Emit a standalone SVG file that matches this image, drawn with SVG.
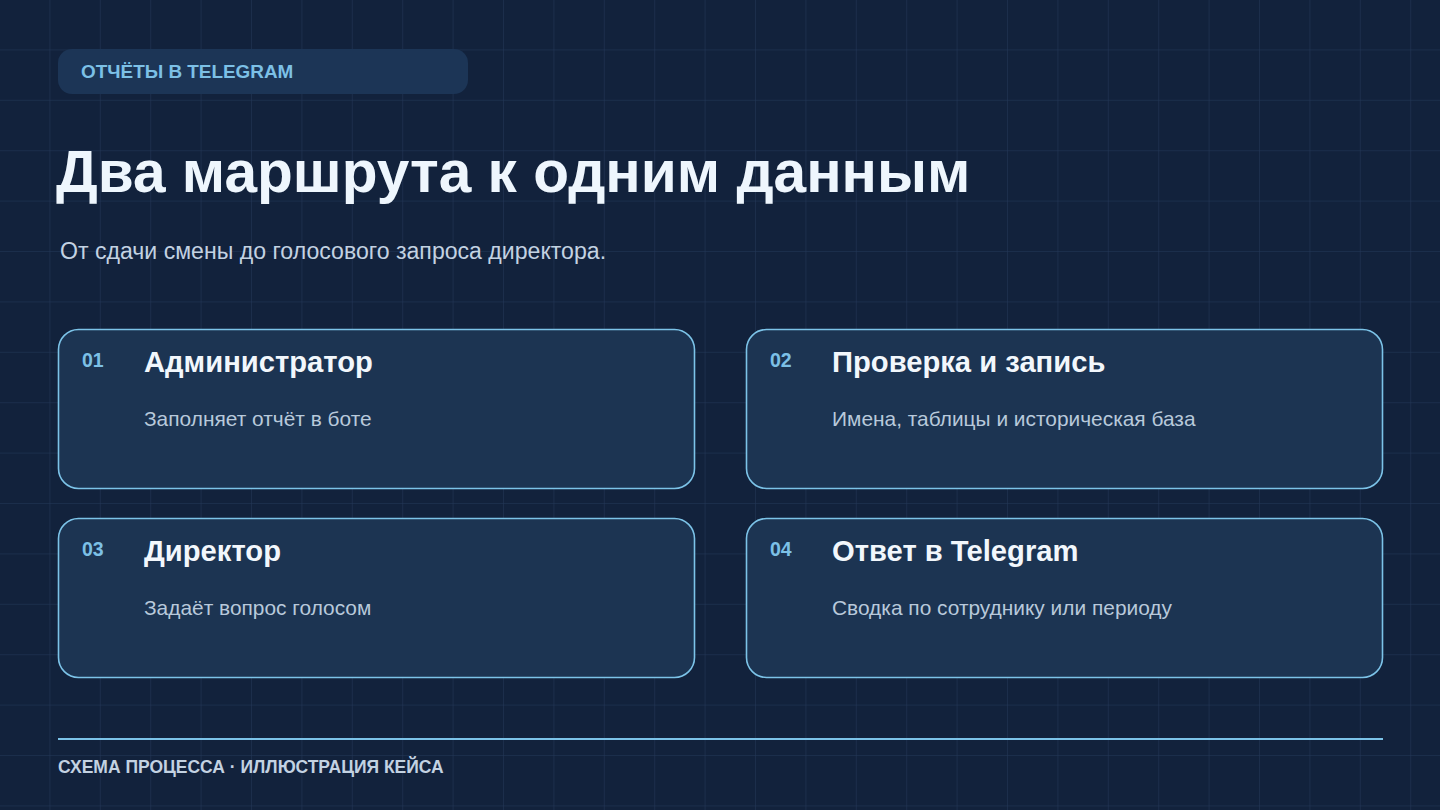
<svg xmlns="http://www.w3.org/2000/svg" width="1440" height="810" viewBox="0 0 1440 810">
  <defs>
    <pattern id="grid" x="0" y="0" width="50.4" height="50.4" patternUnits="userSpaceOnUse">
      <path d="M50.4 0V50.4M0 50.4H50.4" fill="none" stroke="#24395a" stroke-width="1"/>
    </pattern>
    <style>
      .card { fill: #1c3452; stroke: #7cc3e8; stroke-width: 1.6; }
      .num { font-family: "Liberation Sans", Arial, sans-serif; font-weight: bold; font-size: 19.5px; fill: #7cc0e6; }
      .ttl { font-family: "Liberation Sans", Arial, sans-serif; font-weight: bold; font-size: 29.2px; fill: #f2f7fc; }
      .dsc { font-family: "Liberation Sans", Arial, sans-serif; font-size: 20.9px; fill: #b8c9db; }
    </style>
  </defs>
  <rect width="1440" height="810" fill="#12223c"/>
  <rect width="1440" height="810" fill="url(#grid)"/>

  <g id="tag">
    <rect x="58" y="49" width="410" height="45" rx="14" fill="#1c3556"/>
    <text x="81" y="78" font-family="Liberation Sans, Arial, sans-serif" font-weight="bold" font-size="18.9" fill="#7cc0e6">ОТЧЁТЫ В TELEGRAM</text>
  </g>

  <g id="heading">
    <text x="56" y="192" font-family="Liberation Sans, Arial, sans-serif" font-weight="bold" font-size="58.6" fill="#eef6fd">Два маршрута к одним данным</text>
    <text x="60" y="259" font-family="Liberation Sans, Arial, sans-serif" font-size="23.1" fill="#c3d2e2">От сдачи смены до голосового запроса директора.</text>
  </g>

  <g id="connectors"></g>

  <g id="node-01">
    <rect class="card" x="58.5" y="329.5" width="636" height="159" rx="20"/>
    <text class="num" x="82" y="366.5">01</text>
    <text class="ttl" x="144" y="371.5">Администратор</text>
    <text class="dsc" x="144" y="426">Заполняет отчёт в боте</text>
  </g>

  <g id="node-02">
    <rect class="card" x="746.5" y="329.5" width="636" height="159" rx="20"/>
    <text class="num" x="770" y="366.5">02</text>
    <text class="ttl" x="832" y="371.5">Проверка и запись</text>
    <text class="dsc" x="832" y="426">Имена, таблицы и историческая база</text>
  </g>

  <g id="node-03">
    <rect class="card" x="58.5" y="518.5" width="636" height="159" rx="20"/>
    <text class="num" x="82" y="555.5">03</text>
    <text class="ttl" x="144" y="560.5">Директор</text>
    <text class="dsc" x="144" y="615">Задаёт вопрос голосом</text>
  </g>

  <g id="node-04">
    <rect class="card" x="746.5" y="518.5" width="636" height="159" rx="20"/>
    <text class="num" x="770" y="555.5">04</text>
    <text class="ttl" x="832" y="560.5">Ответ в Telegram</text>
    <text class="dsc" x="832" y="615">Сводка по сотруднику или периоду</text>
  </g>

  <g id="footer">
    <line x1="58" y1="739" x2="1383" y2="739" stroke="#7cc3e8" stroke-width="2"/>
    <text x="58" y="773" font-family="Liberation Sans, Arial, sans-serif" font-weight="bold" font-size="17.5" fill="#c3d2e2">СХЕМА ПРОЦЕССА · ИЛЛЮСТРАЦИЯ КЕЙСА</text>
  </g>
</svg>
